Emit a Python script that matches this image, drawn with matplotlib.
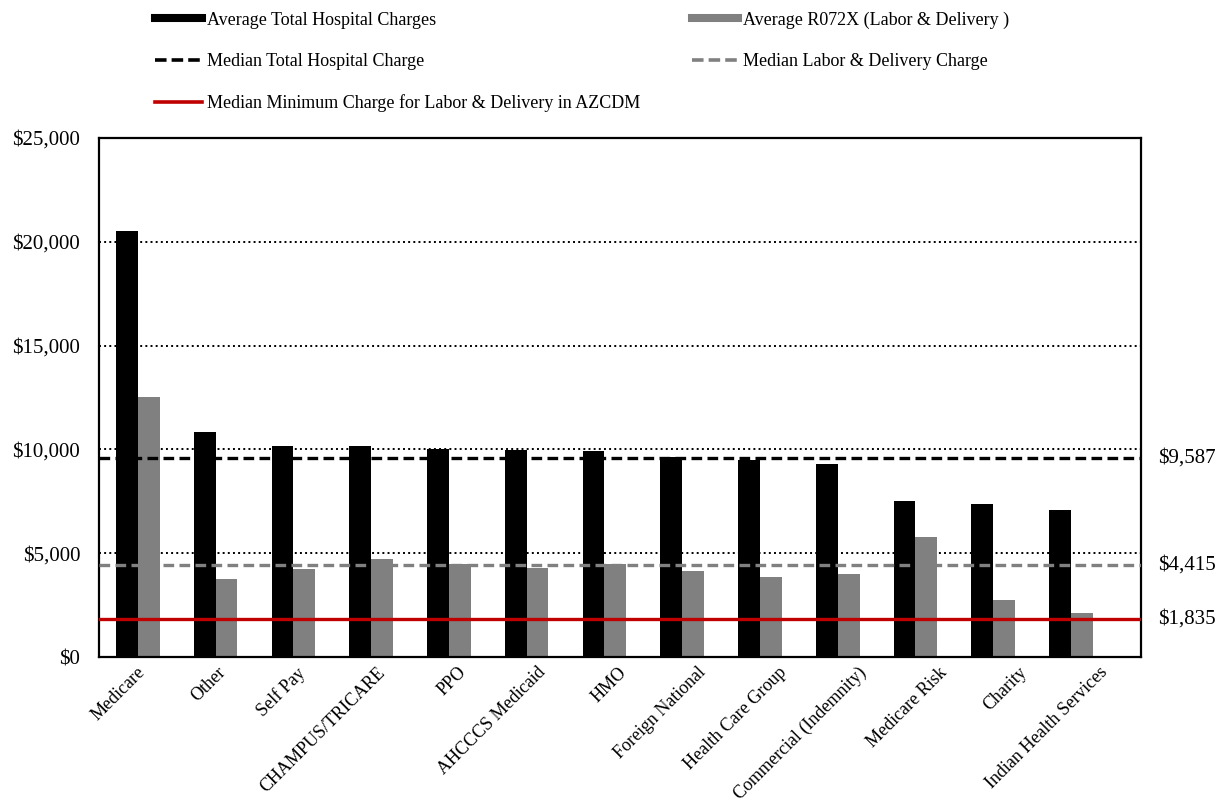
import matplotlib
matplotlib.use("Agg")
import matplotlib.pyplot as plt
import matplotlib.transforms as mtransforms
import numpy as np
from matplotlib.lines import Line2D

plt.rcParams["font.family"] = ["Liberation Serif", "DejaVu Serif"]

# Daten
payers = ["Medicare", "Other", "Self Pay", "CHAMPUS/TRICARE", "PPO", "AHCCCS Medicaid",
          "HMO", "Foreign National", "Health Care Group", "Commercial (Indemnity)",
          "Medicare Risk", "Charity", "Indian Health Services"]
avg_total = [20520, 10840, 10180, 10180, 10020, 9955, 9925, 9620, 9475, 9280, 7500, 7370, 7065]
avg_ld = [12520, 3760, 4225, 4735, 4465, 4300, 4465, 4160, 3870, 4015, 5780, 2730, 2135]
median_total = 9587
median_ld = 4415
median_min_ld = 1835

fig = plt.figure(figsize=(12.28, 8.08), dpi=100)
ax = fig.add_axes([99 / 1228, 151 / 808, 1042 / 1228, 519 / 808])

x = np.arange(len(payers))
w = 0.28
ax.bar(x - w / 2, avg_total, w, color="black", zorder=2)
ax.bar(x + w / 2, avg_ld, w, color="#808080", zorder=2)

for v in [5000, 10000, 15000, 20000]:
    ax.axhline(v, color="black", ls=":", lw=1.4, zorder=1)

ax.axhline(median_total, color="black", lw=2.4, ls=(0, (3.2, 1.6)), zorder=3)
ax.axhline(median_ld, color="#808080", lw=2.4, ls=(0, (3.2, 1.6)), zorder=3)
ax.axhline(median_min_ld, color="#C00000", lw=2.4, zorder=3)

for v in [median_total, median_ld, median_min_ld]:
    ax.text(1.0165, v, "${:,}".format(v), transform=ax.get_yaxis_transform(),
            ha="left", va="center", fontsize=15)

ax.set_xlim(-0.5, 12.9)
ax.set_ylim(0, 25000)
ax.set_yticks(np.arange(0, 25001, 5000))
ax.set_yticklabels(["${:,}".format(v) for v in range(0, 25001, 5000)], fontsize=15)
ax.tick_params(axis="y", length=0, pad=13.5)
ax.set_xticks([])
for s in ax.spines.values():
    s.set_linewidth(1.6)

# Kategorie-Beschriftungen auf eigener Achse
ax_lab = ax.twiny()
ax_lab.set_xlim(-0.52, 12.48)
ax_lab.xaxis.tick_bottom()
ax_lab.set_xticks(x)
ax_lab.set_xticklabels(payers, rotation=45, ha="right", fontsize=13)
ax_lab.tick_params(axis="x", length=0, pad=5)
shift = mtransforms.ScaledTranslation(8 / 100, 0, fig.dpi_scale_trans)
for lab in ax_lab.get_xticklabels():
    lab.set_transform(lab.get_transform() + shift)
for s in ax_lab.spines.values():
    s.set_visible(False)

handles = [
    Line2D([], [], color="black", lw=5.8),
    Line2D([], [], color="black", lw=2.6, ls=(0, (3.2, 1.4))),
    Line2D([], [], color="#C00000", lw=2.6),
    Line2D([], [], color="#808080", lw=5.8),
    Line2D([], [], color="#808080", lw=2.6, ls=(0, (3.2, 1.4))),
]
labels = [
    "Average Total Hospital Charges",
    "Median Total Hospital Charge",
    "Median Minimum Charge for Labor & Delivery in AZCDM",
    "Average R072X (Labor & Delivery )",
    "Median Labor & Delivery Charge",
]
fig.legend(handles, labels, loc="upper left", bbox_to_anchor=(155 / 1228, 0.986),
           ncol=2, frameon=False, fontsize=13, handlelength=2.6, handletextpad=0.27,
           labelspacing=1.35, columnspacing=2.85, borderpad=0, borderaxespad=0)

fig.savefig("out.png", dpi=100)
